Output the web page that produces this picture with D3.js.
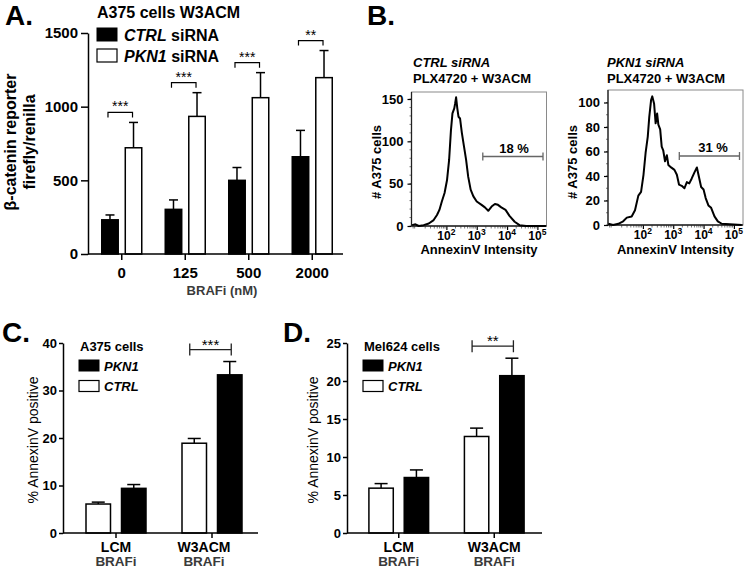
<!DOCTYPE html>
<html><head><meta charset="utf-8">
<script src="https://cdn.jsdelivr.net/npm/d3@7"></script>
<style>
body{margin:0;background:#fff}
text{font-family:"Liberation Sans",Arial,Helvetica,sans-serif}
</style>
</head><body>
<svg id="fig" width="745" height="569"></svg>
<script>
// ---------- Panel A data ----------
const doseLabels = ["0", "125", "500", "2000"];
const aSeries = ["CTRL", "PKN1"];
const aCTRL = [232, 303, 500, 660];
const aCTRLsem = [33, 64, 87, 179];
const aPKN1 = [721, 934, 1061, 1197];
const aPKN1sem = [172, 161, 170, 184];
const aSig = ["***", "***", "***", "**"];
const aYTicks = [0, 500, 1000, 1500];

// ---------- Panel B data (log10 AnnexinV intensity, cell count) ----------
const bCtrlLog = [0.87,0.98,1.09,1.25,1.42,1.58,1.69,1.77,1.85,1.94,2.02,2.09,2.15,2.2,2.26,2.29,2.32,2.36,2.4,2.45,2.51,2.58,2.65,2.72,2.8,2.89,3.0,3.16,3.27,3.38,3.49,3.6,3.7,3.81,3.95,4.08,4.25,4.41,4.63,5.28];
const bCtrlCount = [1,2,0,1,3,7,13,19,29,39,54,78,113,133,139,145,152,139,129,127,110,94,78,58,43,35,29,25,22,18,23,26,25,22,19,12,5,1,0,0];
const bPknLog = [0.86,1.02,1.19,1.35,1.47,1.63,1.74,1.85,1.94,2.02,2.09,2.16,2.21,2.27,2.31,2.37,2.42,2.47,2.51,2.57,2.62,2.67,2.73,2.79,2.84,2.93,3.04,3.12,3.19,3.28,3.37,3.45,3.53,3.61,3.7,3.78,3.85,3.92,4.0,4.07,4.16,4.25,4.36,4.47,4.6,5.26];
const bPknCount = [1,0,1,3,6,7,12,24,27,41,59,72,88,102,105,99,83,91,82,78,64,61,52,57,49,47,45,41,33,32,30,35,34,38,43,47,39,31,29,22,16,14,7,3,1,0];
const bCtrlYTicks = [0, 50, 100, 150];
const bPknYTicks = [0, 20, 40, 60, 80, 100];
const bXDecades = [2, 3, 4, 5];
const bGateStartLog = 3.2;
const bCtrlPct = "18 %";
const bPknPct = "31 %";

// ---------- Panels C / D data ----------
const cdGroups = ["LCM", "W3ACM"];
const cdSeries = ["CTRL", "PKN1"];
const cCTRL = [6.1, 18.9];
const cCTRLsem = [0.4, 1.0];
const cPKN1 = [9.4, 33.3];
const cPKN1sem = [0.8, 2.8];
const cYTicks = [0, 10, 20, 30, 40];
const cSig = "***";
const dCTRL = [5.9, 12.7];
const dCTRLsem = [0.6, 1.1];
const dPKN1 = [7.3, 20.7];
const dPKN1sem = [1.0, 2.3];
const dYTicks = [0, 5, 10, 15, 20, 25];
const dSig = "**";

// ---------------------------------------------------------------
const svg = d3.select("#fig");
const SW = 1.5;

function label(g, x, y, s, size, opts = {}) {
  const t = g.append("text").attr("x", x).attr("y", y)
    .attr("font-size", size).attr("font-weight", opts.weight || "bold")
    .attr("fill", opts.fill || "#000")
    .attr("text-anchor", opts.anchor || "start");
  if (opts.style) t.attr("font-style", opts.style);
  t.text(s);
  return t;
}
function styleAxis(sel, fs) {
  sel.selectAll("line").attr("stroke", "#000").attr("stroke-width", SW);
  sel.selectAll("path").attr("stroke", "#000").attr("stroke-width", SW);
  sel.selectAll("text").attr("font-size", fs).attr("font-weight", "bold").attr("fill", "#000")
     .style("font-family", '"Liberation Sans",Arial,sans-serif');
}

// ================= Panel A =================
{
  const g = svg.append("g");
  label(g, 5, 25, "A.", 28);
  const x = d3.scaleBand().domain(doseLabels).range([90, 344]).paddingInner(0.37).paddingOuter(0.185);
  const xi = d3.scaleBand().domain(aSeries).range([0, x.bandwidth()]).paddingInner(0.3);
  const y = d3.scaleLinear().domain([0, 1500]).range([254, 33]);
  const vals = {CTRL: aCTRL, PKN1: aPKN1};
  const sems = {CTRL: aCTRLsem, PKN1: aPKN1sem};
  const fill = {CTRL: "#000", PKN1: "#fff"};

  aSeries.forEach(s => {
    doseLabels.forEach((d, i) => {
      const x0 = x(d) + xi(s), w = xi.bandwidth(), cx = x0 + w / 2;
      const v = vals[s][i], e = v + sems[s][i];
      g.append("line").attr("x1", cx).attr("x2", cx).attr("y1", y(v)).attr("y2", y(e)).attr("stroke", "#000").attr("stroke-width", SW);
      g.append("line").attr("x1", cx - 4.5).attr("x2", cx + 4.5).attr("y1", y(e)).attr("y2", y(e)).attr("stroke", "#000").attr("stroke-width", SW);
      g.append("rect").attr("x", x0).attr("y", y(v)).attr("width", w).attr("height", y(0) - y(v))
        .attr("fill", fill[s]).attr("stroke", "#000").attr("stroke-width", SW);
    });
  });
  // significance brackets
  doseLabels.forEach((d, i) => {
    const top = Math.max(aCTRL[i] + aCTRLsem[i], aPKN1[i] + aPKN1sem[i]);
    const yb = y(top) - 10;
    const x1 = x(d) + xi("CTRL") + xi.bandwidth() / 2 - 2;
    const x2 = x(d) + xi("PKN1") + xi.bandwidth() / 2 - 1;
    g.append("path").attr("d", `M${x1},${yb + 5}V${yb}H${x2}V${yb + 5}`).attr("fill", "none").attr("stroke", "#000").attr("stroke-width", 1.2);
    label(g, (x1 + x2) / 2, yb - 1, aSig[i], 14, {weight: "normal", anchor: "middle"});
  });
  // axes
  const ay = g.append("g").attr("transform", "translate(88,0)")
    .call(d3.axisLeft(y).tickValues(aYTicks).tickFormat(d3.format("d")).tickSize(7).tickPadding(3).tickSizeOuter(0));
  styleAxis(ay, 15);
  const ax = g.append("g").attr("transform", "translate(0,254)")
    .call(d3.axisBottom(x).tickSize(6).tickPadding(7).tickSizeOuter(0));
  ax.select(".domain").remove();
  styleAxis(ax, 15);
  g.append("line").attr("x1", 88).attr("x2", 343).attr("y1", 254).attr("y2", 254).attr("stroke", "#000").attr("stroke-width", SW);
  label(g, 222, 295, "BRAFi (nM)", 13, {anchor: "middle", fill: "#3a3a3a"});
  // y label
  const yl = g.append("g").attr("transform", "translate(0,142) rotate(-90)");
  label(yl, 0, 10, "\u03b2-catenin reporter", 16, {anchor: "middle"}).attr("dy", "0.35em");
  label(yl, 0, 29, "firefly/renilla", 16, {anchor: "middle"}).attr("dy", "0.35em");
  // legend
  label(g, 97, 18, "A375 cells W3ACM", 16);
  g.append("rect").attr("x", 97).attr("y", 28).attr("width", 20).attr("height", 13).attr("fill", "#000").attr("stroke", "#000").attr("stroke-width", 1);
  g.append("rect").attr("x", 97).attr("y", 49).attr("width", 20).attr("height", 13).attr("fill", "#fff").attr("stroke", "#000").attr("stroke-width", 1.2);
  const l1 = label(g, 124, 40.5, "", 16); l1.append("tspan").attr("font-style", "italic").text("CTRL"); l1.append("tspan").text(" siRNA");
  const l2 = label(g, 124, 61.5, "", 16); l2.append("tspan").attr("font-style", "italic").text("PKN1"); l2.append("tspan").text(" siRNA");
}

// ================= Panel B =================
label(svg, 367, 25, "B.", 28);
function hist(cfg) {
  const g = svg.append("g");
  const x = d3.scaleLinear().domain([0.85, 5.3]).range([cfg.x0, cfg.x1]);
  const y = d3.scaleLinear().domain([0, cfg.yMax]).range([cfg.yb, cfg.yt]);
  // frame
  g.append("rect").attr("x", cfg.x0).attr("y", cfg.ft).attr("width", cfg.x1 - cfg.x0).attr("height", cfg.yb - cfg.ft)
    .attr("fill", "none").attr("stroke", "#8a8a8a").attr("stroke-width", 1);
  // minor ticks x
  for (let dd = 0; dd <= 5; dd++) for (let k = 2; k <= 9; k++) {
    const v = dd + Math.log10(k);
    if (v > 0.85 && v < 5.3) g.append("line").attr("x1", x(v)).attr("x2", x(v)).attr("y1", cfg.yb).attr("y2", cfg.yb + 2.5).attr("stroke", "#555").attr("stroke-width", 0.8);
  }
  // minor ticks y
  for (let v = 0; v <= cfg.yMax + 0.1; v += cfg.minor) {
    if (y(v) >= cfg.ft) g.append("line").attr("x1", cfg.x0).attr("x2", cfg.x0 - 2).attr("y1", y(v)).attr("y2", y(v)).attr("stroke", "#555").attr("stroke-width", 0.8);
  }
  const ay = g.append("g").attr("transform", `translate(${cfg.x0},0)`)
    .call(d3.axisLeft(y).tickValues(cfg.ticks).tickSize(4).tickPadding(4).tickSizeOuter(0));
  ay.select(".domain").remove();
  styleAxis(ay, 13);
  ay.selectAll("line").attr("stroke-width", 1.2);
  const ax = g.append("g").attr("transform", `translate(0,${cfg.yb})`)
    .call(d3.axisBottom(x).tickValues(bXDecades).tickSize(4).tickPadding(4).tickFormat(""));
  ax.select(".domain").remove();
  ax.selectAll("line").attr("stroke", "#000").attr("stroke-width", 1.2);
  bXDecades.forEach(dv => {
    const t = label(g, x(dv), cfg.yb + 14, "", 12, {anchor: "middle"});
    t.append("tspan").text("10");
    t.append("tspan").attr("dy", -5).attr("font-size", 8.5).text(dv);
  });
  g.append("line").attr("x1", cfg.x0).attr("x2", cfg.x0).attr("y1", cfg.ft).attr("y2", cfg.yb).attr("stroke", "#222").attr("stroke-width", 1.3);
  g.append("line").attr("x1", cfg.x0).attr("x2", cfg.x1).attr("y1", cfg.yb).attr("y2", cfg.yb).attr("stroke", "#222").attr("stroke-width", 1.3);
  // curve
  const pts = cfg.logs.map((l, i) => [l, cfg.counts[i]]);
  g.append("path").datum(pts).attr("fill", "none").attr("stroke", "#000").attr("stroke-width", 2).attr("stroke-linejoin", "round")
    .attr("d", d3.line().x(d => x(d[0])).y(d => y(d[1])));
  // gate
  const gx1 = x(bGateStartLog) + cfg.gOff, gx2 = cfg.x1 - 3.5;
  g.append("path").attr("d", `M${gx1},${cfg.gy - 4}V${cfg.gy + 4}M${gx1},${cfg.gy}H${gx2}M${gx2},${cfg.gy - 4}V${cfg.gy + 4}`)
    .attr("stroke", "#666").attr("stroke-width", 1.3).attr("fill", "none");
  label(g, cfg.pctX, cfg.gy - 4, cfg.pct, 13, {anchor: "middle"});
  // titles
  const t1 = label(g, cfg.tx, 67, "", 13); t1.append("tspan").attr("font-style", "italic").text(cfg.title);
  label(g, cfg.tx, 82.5, "PLX4720 + W3ACM", 13);
  label(g, (cfg.x0 + cfg.x1) / 2, 254, "AnnexinV Intensity", 13, {anchor: "middle"});
  const yl = g.append("g").attr("transform", `translate(${cfg.ylx},162) rotate(-90)`);
  label(yl, 0, 0, "# A375 cells", 13, {anchor: "middle"}).attr("dy", "0.35em");
}
hist({x0: 411.5, x1: 546.5, yb: 226, yt: 99, ft: 92, yMax: 150, ticks: bCtrlYTicks, minor: 10,
      logs: bCtrlLog, counts: bCtrlCount, gy: 156.5, gOff: 0, pct: bCtrlPct, pctX: 514,
      title: "CTRL siRNA", tx: 413, ylx: 376});
hist({x0: 608, x1: 743, yb: 225, yt: 102.5, ft: 90, yMax: 100, ticks: bPknYTicks, minor: 10,
      logs: bPknLog, counts: bPknCount, gy: 156, gOff: 0, pct: bPknPct, pctX: 713,
      title: "PKN1 siRNA", tx: 607, ylx: 572});

// ================= Panels C, D =================
function annex(cfg) {
  const g = svg.append("g");
  label(g, cfg.letterX, 342, cfg.letter, 28);
  const x = d3.scaleBand().domain(cdGroups).range(cfg.xr).paddingInner(0.375).paddingOuter(0.1875);
  const xi = d3.scaleBand().domain(cdSeries).range([0, x.bandwidth()]).paddingInner(0.31);
  const y = d3.scaleLinear().domain([0, cfg.yMax]).range([533, 343]);
  const vals = {CTRL: cfg.ctrl, PKN1: cfg.pkn};
  const sems = {CTRL: cfg.ctrlSem, PKN1: cfg.pknSem};
  const fill = {CTRL: "#fff", PKN1: "#000"};
  cdSeries.forEach(s => cdGroups.forEach((d, i) => {
    const x0 = x(d) + xi(s), w = xi.bandwidth(), cx = x0 + w / 2;
    const v = vals[s][i], e = v + sems[s][i];
    g.append("line").attr("x1", cx).attr("x2", cx).attr("y1", y(v)).attr("y2", y(e)).attr("stroke", "#000").attr("stroke-width", SW);
    g.append("line").attr("x1", cx - 6.5).attr("x2", cx + 6.5).attr("y1", y(e)).attr("y2", y(e)).attr("stroke", "#000").attr("stroke-width", SW);
    g.append("rect").attr("x", x0).attr("y", y(v)).attr("width", w).attr("height", y(0) - y(v))
      .attr("fill", fill[s]).attr("stroke", "#000").attr("stroke-width", SW);
  }));
  // bracket on W3ACM
  const gi = 1;
  const top = Math.max(cfg.ctrl[gi] + cfg.ctrlSem[gi], cfg.pkn[gi] + cfg.pknSem[gi]);
  const yb = y(top) - 12;
  const x1 = x(cdGroups[gi]) + xi("CTRL") + xi.bandwidth() / 2 - 4.5;
  const x2 = x(cdGroups[gi]) + xi("PKN1") + xi.bandwidth() / 2 + 1.5;
  g.append("path").attr("d", `M${x1},${yb - 6}V${yb + 6}M${x1},${yb}H${x2}M${x2},${yb - 6}V${yb + 6}`)
    .attr("fill", "none").attr("stroke", "#222").attr("stroke-width", 1.3);
  label(g, (x1 + x2) / 2, yb, cfg.sig, 15, {weight: "normal", anchor: "middle"});
  // axes
  const ay = g.append("g").attr("transform", `translate(${cfg.ax},0)`)
    .call(d3.axisLeft(y).tickValues(cfg.ticks).tickSize(4).tickPadding(2).tickSizeOuter(0));
  styleAxis(ay, 13);
  const axg = g.append("g").attr("transform", "translate(0,533)")
    .call(d3.axisBottom(x).tickSize(5).tickFormat(""));
  axg.select(".domain").remove();
  styleAxis(axg, 13);
  g.append("line").attr("x1", cfg.ax).attr("x2", cfg.axEnd).attr("y1", 533).attr("y2", 533).attr("stroke", "#000").attr("stroke-width", SW);
  cdGroups.forEach((d, i) => {
    const cx = x(d) + x.bandwidth() / 2 + (cfg.lblOff ? cfg.lblOff[i] : 0);
    label(g, cx, 552, d, 14, {anchor: "middle"});
    label(g, cx, 565.5, "BRAFi", 13.5, {anchor: "middle", fill: "#3a3a3a"});
  });
  const yl = g.append("g").attr("transform", `translate(${cfg.ylx},440) rotate(-90)`);
  label(yl, 0, 0, "% AnnexinV positive", 14, {anchor: "middle", weight: "normal"}).attr("dy", "0.35em");
  // legend
  label(g, cfg.lx + 1, 351, cfg.cells, 13);
  g.append("rect").attr("x", cfg.lx).attr("y", 360).attr("width", 20).attr("height", 11).attr("fill", "#000").attr("stroke", "#000").attr("stroke-width", 1);
  g.append("rect").attr("x", cfg.lx).attr("y", 380.5).attr("width", 20).attr("height", 11).attr("fill", "#fff").attr("stroke", "#000").attr("stroke-width", 1.2);
  label(g, cfg.lx + 25, 370.5, "PKN1", 13, {style: "italic"});
  label(g, cfg.lx + 25, 390.5, "CTRL", 13, {style: "italic"});
}
annex({letter: "C.", letterX: 2, xr: [68, 260], yMax: 40, ticks: cYTicks, ctrl: cCTRL, ctrlSem: cCTRLsem, pkn: cPKN1, pknSem: cPKN1sem,
       sig: cSig, ax: 63, axEnd: 258, ylx: 33, lx: 79, cells: "A375 cells", lblOff: [0, -8]});
annex({letter: "D.", letterX: 283, xr: [351, 542], yMax: 25, ticks: dYTicks, ctrl: dCTRL, ctrlSem: dCTRLsem, pkn: dPKN1, pknSem: dPKN1sem,
       sig: dSig, ax: 347, axEnd: 542, ylx: 313, lx: 363, cells: "Mel624 cells"});
</script>
</body></html>
